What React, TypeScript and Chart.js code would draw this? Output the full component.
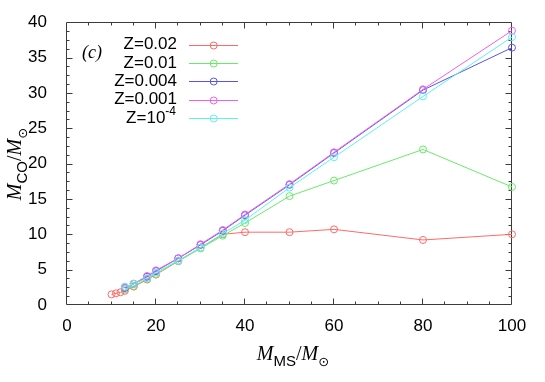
import { useEffect, useRef } from "react";
import { Chart, registerables } from "chart.js";
Chart.register(...registerables);

// Data
const massRed = [10, 11, 12, 13, 15, 18, 20, 25, 30, 35, 40, 50, 60, 80, 100];
const coZ002 = [1.5, 1.65, 1.8, 2.0, 2.6, 3.6, 4.3, 6.2, 8.1, 10.0, 10.3, 10.3, 10.7, 9.2, 10.0];
const masses = [13, 15, 18, 20, 25, 30, 35, 40, 50, 60, 80, 100];
const coZ001 = [2.2, 2.7, 3.7, 4.4, 6.2, 8.0, 9.8, 11.6, 15.4, 17.6, 22.0, 16.7];
const coZ0004 = [2.4, 3.0, 4.0, 4.8, 6.6, 8.5, 10.5, 12.7, 17.0, 21.5, 30.4, 36.4];
const coZ0001 = [2.5, 3.0, 4.1, 4.9, 6.6, 8.6, 10.6, 12.8, 17.1, 21.6, 30.5, 38.8];
const coZ1e4 = [2.6, 3.0, 3.8, 4.6, 6.3, 8.1, 10.1, 12.0, 16.6, 20.9, 29.5, 37.9];
const seriesLabels = ["Z=0.02", "Z=0.01", "Z=0.004", "Z=0.001", "Z=10-4"];
const seriesColors = [
  "rgb(255,105,105)",
  "rgb(105,235,105)",
  "rgb(85,85,235)",
  "rgb(240,95,240)",
  "rgb(95,240,240)",
];
const xTickValues = [0, 20, 40, 60, 80, 100];
const yTickValues = [0, 5, 10, 15, 20, 25, 30, 35, 40];
const panelLabel = "(c)";

const SANS = "'Liberation Sans', Arial, sans-serif";
const SERIF = "'Liberation Serif', 'Times New Roman', serif";

type Seg = { t: string; f: string; dy: number };

function drawSegs(ctx: CanvasRenderingContext2D, segs: Seg[], cx: number, y: number) {
  let total = 0;
  for (const s of segs) {
    ctx.font = s.f;
    total += ctx.measureText(s.t).width;
  }
  let x = cx - total / 2;
  ctx.textAlign = "left";
  ctx.textBaseline = "alphabetic";
  for (const s of segs) {
    ctx.font = s.f;
    ctx.fillText(s.t, x, y + s.dy);
    x += ctx.measureText(s.t).width;
  }
}

const decorPlugin = {
  id: "decor",
  beforeDatasetsDraw(chart: any) {
    const { ctx, chartArea: a, scales } = chart;
    const xs = scales.x;
    const ys = scales.y;
    ctx.save();
    ctx.strokeStyle = "#3a3a3a";
    ctx.lineWidth = 1;
    const L = Math.round(a.left) - 0.5;
    const R = Math.round(a.right) - 0.5;
    const T = Math.round(a.top) + 0.5;
    const B = Math.round(a.bottom) - 0.5;
    ctx.beginPath();
    ctx.rect(L, T, R - L, B - T);
    ctx.stroke();
    ctx.beginPath();
    for (let v = 5; v < 100; v += 5) {
      const p = Math.round(xs.getPixelForValue(v)) - 0.5;
      const len = v % 20 === 0 ? 6 : 3;
      ctx.moveTo(p, B);
      ctx.lineTo(p, B - len);
      ctx.moveTo(p, T);
      ctx.lineTo(p, T + len);
    }
    for (let v = 1.25; v < 40; v += 1.25) {
      const p = Math.round(ys.getPixelForValue(v)) + 0.5;
      const len = Math.abs(v % 5) < 1e-6 ? 6 : 3;
      ctx.moveTo(L, p);
      ctx.lineTo(L + len, p);
      ctx.moveTo(R, p);
      ctx.lineTo(R - len, p);
    }
    ctx.stroke();
    ctx.restore();
  },
  afterDraw(chart: any) {
    const { ctx } = chart;
    ctx.save();
    ctx.fillStyle = "#000";
    // panel label
    ctx.font = `italic 18px ${SERIF}`;
    ctx.textAlign = "left";
    ctx.textBaseline = "middle";
    ctx.fillText(panelLabel, 82, 53);

    // legend
    const textRight = 177;
    for (let i = 0; i < seriesLabels.length; i++) {
      const y = 44.7 + i * 18.3;
      ctx.fillStyle = "#000";
      ctx.textBaseline = "middle";
      ctx.textAlign = "right";
      const lab = seriesLabels[i];
      if (lab === "Z=10-4") {
        ctx.font = `12px ${SANS}`;
        const sup = "-4";
        const w = ctx.measureText(sup).width;
        ctx.fillText(sup, textRight - 1, y - 6);
        ctx.font = `17px ${SANS}`;
        ctx.fillText("Z=10", textRight - 1 - w, y);
      } else {
        ctx.font = `17px ${SANS}`;
        ctx.fillText(lab, textRight, y);
      }
      ctx.strokeStyle = seriesColors[i];
      ctx.lineWidth = 1;
      ctx.beginPath();
      ctx.moveTo(189, Math.round(y) + 0.5);
      ctx.lineTo(238, Math.round(y) + 0.5);
      ctx.stroke();
      ctx.beginPath();
      ctx.arc(213.7, Math.round(y) + 0.5, 3.5, 0, Math.PI * 2);
      ctx.stroke();
    }

    // axis titles
    ctx.fillStyle = "#000";
    const big = `italic 20px ${SERIF}`;
    const sub = `15px ${SANS}`;
    const sun = `13px 'DejaVu Sans', sans-serif`;
    drawSegs(
      ctx,
      [
        { t: "M", f: big, dy: 0 },
        { t: "MS", f: sub, dy: 6 },
        { t: "/", f: `20px ${SERIF}`, dy: 0 },
        { t: "M", f: big, dy: 0 },
        { t: "\u2299", f: sun, dy: 6 },
      ],
      293,
      360
    );
    ctx.save();
    ctx.translate(21, 164);
    ctx.rotate(-Math.PI / 2);
    drawSegs(
      ctx,
      [
        { t: "M", f: big, dy: 0 },
        { t: "CO", f: sub, dy: 6 },
        { t: "/", f: `20px ${SERIF}`, dy: 0 },
        { t: "M", f: big, dy: 0 },
        { t: "\u2299", f: sun, dy: 6 },
      ],
      0,
      0
    );
    ctx.restore();
    ctx.restore();
  },
};

export default function App() {
  const ref = useRef<HTMLCanvasElement | null>(null);
  useEffect(() => {
    if (!ref.current) return;
    const mk = (xs: number[], ys: number[], i: number) => ({
      label: seriesLabels[i],
      data: xs.map((x, k) => ({ x, y: ys[k] })),
      showLine: true,
      borderColor: seriesColors[i],
      borderWidth: 1,
      pointRadius: 3.5,
      pointBorderWidth: 1,
      pointBorderColor: seriesColors[i],
      pointBackgroundColor: "rgba(0,0,0,0)",
      fill: false,
      tension: 0,
      clip: false as any,
      order: 5 - i,
    });
    const chart = new Chart(ref.current, {
      type: "scatter",
      data: {
        datasets: [
          mk(massRed, coZ002, 0),
          mk(masses, coZ001, 1),
          mk(masses, coZ0004, 2),
          mk(masses, coZ0001, 3),
          mk(masses, coZ1e4, 4),
        ],
      },
      options: {
        responsive: false,
        animation: false,
        devicePixelRatio: 1,
        layout: { padding: { top: 22, right: 33, left: 0, bottom: 0 } },
        plugins: { legend: { display: false }, tooltip: { enabled: false }, title: { display: false } },
        scales: {
          x: {
            type: "linear",
            min: 0,
            max: 100,
            afterFit: (s: any) => {
              s.height = 77;
            },
            afterBuildTicks: (s: any) => {
              s.ticks = xTickValues.map((v) => ({ value: v }));
            },
            grid: { display: false },
            border: { display: false },
            ticks: {
              color: "#000",
              padding: 3,
              font: { family: SANS, size: 17 },
              maxRotation: 0,
            },
          },
          y: {
            type: "linear",
            min: 0,
            max: 40,
            afterFit: (s: any) => {
              s.width = 67;
            },
            afterBuildTicks: (s: any) => {
              s.ticks = yTickValues.map((v) => ({ value: v }));
            },
            grid: { display: false },
            border: { display: false },
            ticks: {
              color: "#000",
              padding: 12,
              font: { family: SANS, size: 17 },
            },
          },
        },
      },
      plugins: [decorPlugin],
    });
    return () => chart.destroy();
  }, []);
  return (
    <div style={{ position: "absolute", left: 0, top: 0, width: 545, height: 382, background: "#fff" }}>
      <canvas ref={ref} width={545} height={382} style={{ display: "block" }} />
    </div>
  );
}
